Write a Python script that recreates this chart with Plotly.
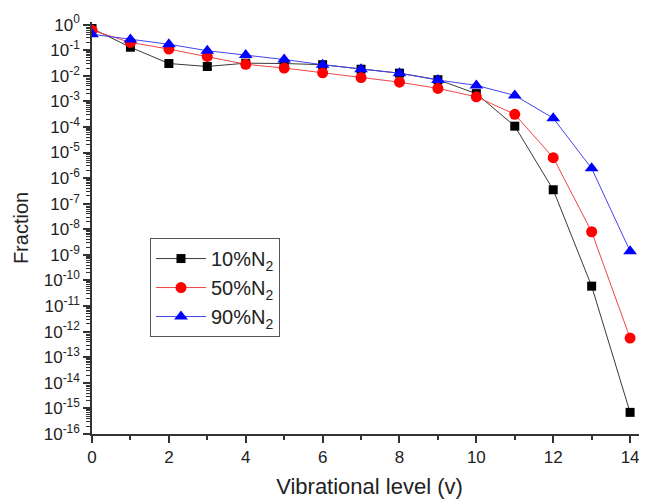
import plotly.graph_objects as go

levels = list(range(15))
frac_10 = [0.7, 0.13, 0.03, 0.023, 0.031, 0.03, 0.027, 0.018, 0.0126, 0.007, 0.002,
           1.07e-4, 3.5e-7, 6e-11, 7e-16]
frac_50 = [0.6, 0.2, 0.11, 0.057, 0.028, 0.02, 0.013, 0.0085, 0.0056, 0.0032, 0.0015,
           3.1e-4, 6.3e-6, 8e-9, 5.6e-13]
frac_90 = [0.42, 0.26, 0.17, 0.095, 0.065, 0.043, 0.027, 0.018, 0.0125, 0.0068, 0.0042,
           1.7e-3, 2.2e-4, 2.4e-6, 1.4e-9]
names = ["10%N<sub>2</sub>", "50%N<sub>2</sub>", "90%N<sub>2</sub>"]

decades = list(range(-16, 1))
ytick_vals = [10.0 ** d for d in decades]
ytick_text = ["10<sup>%d</sup>" % d for d in decades]
yminor_vals = [m * 10.0 ** d for d in range(-16, 0) for m in range(2, 10)]

font_family = "Liberation Sans, Arial, sans-serif"

fig = go.Figure()
fig.add_trace(go.Scatter(x=levels, y=frac_10, name=names[0], mode="lines+markers",
                         line=dict(color="#3a3a3a", width=1),
                         marker=dict(symbol="square", size=9, color="#000000")))
fig.add_trace(go.Scatter(x=levels, y=frac_50, name=names[1], mode="lines+markers",
                         line=dict(color="#ee4444", width=1),
                         marker=dict(symbol="circle", size=11, color="#ff0000")))
fig.add_trace(go.Scatter(x=levels, y=frac_90, name=names[2], mode="lines+markers",
                         line=dict(color="#4444ee", width=1),
                         marker=dict(symbol="triangle-up", size=12, color="#0000ff")))

# the page body adds an 8px offset, so the figure is 8px smaller
fig.update_layout(
    width=639, height=491,
    margin=dict(l=84, r=0, t=14, b=59),
    paper_bgcolor="white", plot_bgcolor="white",
    font=dict(family=font_family, color="#222222", size=17),
    showlegend=True,
    legend=dict(x=0.1045, y=0.4756, xanchor="left", yanchor="top",
                bordercolor="#555555", borderwidth=1, bgcolor="white",
                font=dict(size=20, family=font_family, color="#222222"),
                tracegroupgap=0, itemwidth=50),
)
fig.update_xaxes(
    range=[0, 14.44], showgrid=False, zeroline=False,
    showline=True, linecolor="#333333", linewidth=1.5,
    tickmode="array", tickvals=[0, 2, 4, 6, 8, 10, 12, 14],
    ticks="outside", ticklen=7, tickwidth=1.5, tickcolor="#333333",
    minor=dict(tickvals=[1, 3, 5, 7, 9, 11, 13], ticks="outside", ticklen=4,
               tickwidth=1.5, tickcolor="#333333"),
    tickfont=dict(size=17),
    title=dict(text="Vibrational level (v)", font=dict(size=22), standoff=16),
)
fig.update_yaxes(
    type="log", range=[-16, 0.1], showgrid=False, zeroline=False,
    showline=True, linecolor="#333333", linewidth=1.5,
    tickmode="array", tickvals=ytick_vals, ticktext=ytick_text,
    ticks="outside", ticklen=7, tickwidth=1.5, tickcolor="#333333",
    minor=dict(tickvals=yminor_vals, ticks="outside", ticklen=4,
               tickwidth=1, tickcolor="#333333"),
    tickfont=dict(size=17),
    title=dict(text="Fraction", font=dict(size=20), standoff=10),
)

fig.write_html("out.html")
